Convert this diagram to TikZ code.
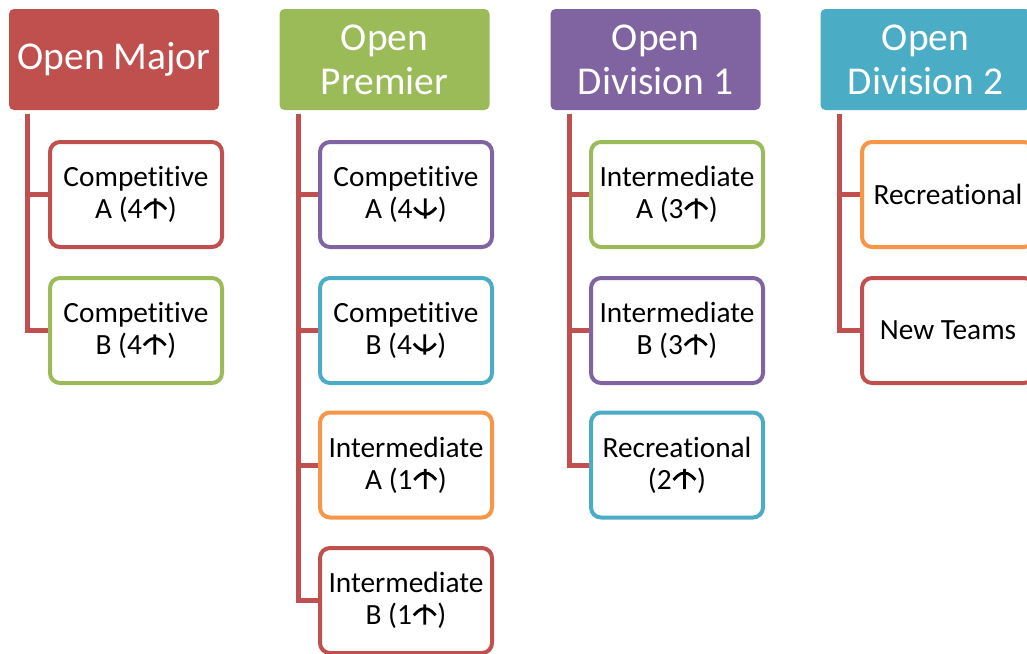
\documentclass[tikz,border=0pt]{standalone}
\usepackage{fontspec}
\setmainfont{Carlito}[Ligatures={NoCommon,NoRare,NoContextual}]
\definecolor{cred}{HTML}{C0504D}
\definecolor{cgreen}{HTML}{9BBB59}
\definecolor{cpurple}{HTML}{8064A2}
\definecolor{cteal}{HTML}{4BACC6}
\definecolor{corange}{HTML}{F79646}
\newcommand{\nolig}{\kern0pt{}}
\newcommand{\uarr}{\kern0.3pt\tikz[baseline=0pt, x=1pt, y=1pt, line width=2.1pt, line join=miter, line cap=butt]{\draw[black] (-8.2,7) -- (0,15.2) -- (8.2,7) (0,15.2) -- (0,0);}\kern0.3pt}
\newcommand{\darr}{\kern0.3pt\tikz[baseline=0pt, x=1pt, y=1pt, line width=2.1pt, line join=miter, line cap=butt]{\draw[black] (-8.2,8.2) -- (0,0) -- (8.2,8.2) (0,0) -- (0,15.2);}\kern0.3pt}
\tikzset{
  hdr/.style={rectangle, rounded corners=3.75pt, minimum width=157.5pt, minimum height=75.75pt,
    text=white, font=\fontsize{29.6}{33}\selectfont, align=center, inner sep=0pt},
  kid/.style={rectangle, rounded corners=7.5pt, draw=#1, line width=3pt, fill=white,
    minimum width=129pt, minimum height=78.75pt, font=\fontsize{22}{24}\selectfont,
    align=center, inner sep=0pt},
  conn/.style={draw=cred, line width=3.75pt, line join=miter}
}
\begin{document}
\begin{tikzpicture}[x=0.75pt, y=-0.75pt]
\useasboundingbox (0,0) rectangle (1027,653);
\clip (0,0) rectangle (1027,653);
% headers
\node[hdr, fill=cred] (h1) at (114,59.5) {Open Major};
\node[hdr, fill=cgreen] (h2) at (384.5,59.5) {Open\\Premier};
\node[hdr, fill=cpurple] (h3) at (655.5,59.5) {Open\\Division 1};
\node[hdr, fill=cteal] (h4) at (925.5,59.5) {Open\\Division 2};
% Open Major
\node[kid=cred] (m1) at (136,194.5) {Compet\nolig it\nolig ive\\A (4\uarr)};
\node[kid=cgreen] (m2) at (136,330.5) {Compet\nolig it\nolig ive\\B (4\uarr)};
% Open Premier
\node[kid=cpurple] (p1) at (406,194.5) {Compet\nolig it\nolig ive\\A (4\darr)};
\node[kid=cteal] (p2) at (406,330.5) {Compet\nolig it\nolig ive\\B (4\darr)};
\node[kid=corange] (p3) at (406,465) {Intermediate\\A (1\uarr)};
\node[kid=cred] (p4) at (406,600.5) {Intermediate\\B (1\uarr)};
% Open Division 1
\node[kid=cgreen] (d1) at (677,194.5) {Intermediate\\A (3\uarr)};
\node[kid=cpurple] (d2) at (677,330.5) {Intermediate\\B (3\uarr)};
\node[kid=cteal] (d3) at (677,465) {Recreat\nolig ional\\(2\uarr)};
% Open Division 2
\node[kid=corange] (e1) at (948,194.5) {Recreat\nolig ional};
\node[kid=cred] (e2) at (948,330.5) {New Teams};
% connector tops
\coordinate (t1) at (27,113.5);
\coordinate (t2) at (298,113.5);
\coordinate (t3) at (569,113.5);
\coordinate (t4) at (839,113.5);
\draw[conn] (t1) |- (m1.west);
\draw[conn] (t1) |- (m2.west);
\draw[conn] (t2) |- (p1.west);
\draw[conn] (t2) |- (p2.west);
\draw[conn] (t2) |- (p3.west);
\draw[conn] (t2) |- (p4.west);
\draw[conn] (t3) |- (d1.west);
\draw[conn] (t3) |- (d2.west);
\draw[conn] (t3) |- (d3.west);
\draw[conn] (t4) |- (e1.west);
\draw[conn] (t4) |- (e2.west);
\end{tikzpicture}
\end{document}
